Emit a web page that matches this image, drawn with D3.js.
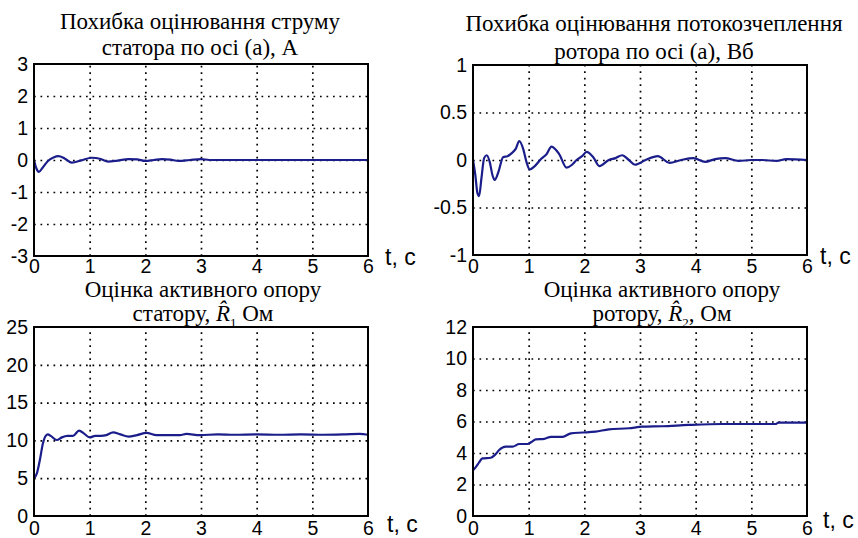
<!DOCTYPE html>
<html>
<head>
<meta charset="utf-8">
<script src="https://cdn.jsdelivr.net/npm/d3@7"></script>
<style>
  body { margin: 0; background: #fff; }
  svg { display: block; }
</style>
</head>
<body>
<div id="viz"></div>
<script>
// time ticks shared by all four panels
const xTicks = [0, 1, 2, 3, 4, 5, 6]

// stator current error, A
const t1 = [0, 0.04, 0.09, 0.15, 0.25, 0.35, 0.44, 0.55, 0.68, 0.85, 1.04, 1.2, 1.33, 1.5, 1.7, 1.85, 2.0, 2.15, 2.3, 2.45, 2.6, 2.8, 3.0, 3.15, 3.5, 4, 5, 6]
const y1 = [0, -0.25, -0.37, -0.25, -0.03, 0.08, 0.12, 0.05, -0.08, -0.01, 0.07, 0.03, -0.05, -0.02, 0.03, 0.02, -0.03, 0.0, 0.03, 0.01, -0.03, 0.0, 0.03, 0.0, 0, 0, 0, 0]
const yTicks1 = [-3, -2, -1, 0, 1, 2, 3]

// rotor flux error, Wb
const t2 = [0, 0.04, 0.08, 0.11, 0.15, 0.2, 0.245, 0.3, 0.35, 0.39, 0.46, 0.54, 0.62, 0.69, 0.77, 0.83, 0.9, 0.96, 1.02, 1.1, 1.23, 1.32, 1.41, 1.55, 1.68, 1.78, 1.86, 1.96, 2.04, 2.16, 2.27, 2.44, 2.56, 2.68, 2.8, 2.91, 3.1, 3.32, 3.53, 3.74, 3.96, 4.17, 4.35, 4.53, 4.77, 5.0, 5.2, 5.45, 5.63, 6]
const y2 = [0, -0.15, -0.35, -0.38, -0.2, 0.02, 0.05, -0.02, -0.16, -0.21, -0.12, 0.03, 0.04, 0.07, 0.12, 0.2, 0.12, -0.02, -0.1, -0.07, 0.015, 0.06, 0.14, 0.06, -0.08, -0.05, 0.0, 0.04, 0.085, 0.03, -0.064, 0.0, 0.02, 0.05, 0.0, -0.05, 0.0, 0.04, -0.03, 0.0, 0.02, -0.02, 0.01, 0.02, -0.01, 0.0, 0.0, -0.01, 0.01, 0.0]
const yTicks2 = [-1, -0.5, 0, 0.5, 1]

// stator resistance estimate, Ohm
const t3 = [0, 0.05, 0.1, 0.16, 0.21, 0.25, 0.3, 0.41, 0.5, 0.6, 0.7, 0.81, 0.9, 1.0, 1.1, 1.2, 1.3, 1.42, 1.55, 1.7, 1.85, 2.02, 2.2, 2.4, 2.62, 2.74, 2.98, 3.3, 3.6, 4.0, 4.4, 4.8, 5.2, 5.6, 5.85, 6]
const y3 = [5, 5.6, 7.2, 9.6, 10.6, 10.8, 10.6, 10.05, 10.4, 10.6, 10.6, 11.3, 10.9, 10.4, 10.6, 10.6, 10.7, 11.07, 10.8, 10.5, 10.7, 11.0, 10.7, 10.7, 10.7, 10.85, 10.7, 10.8, 10.75, 10.8, 10.75, 10.8, 10.75, 10.8, 10.85, 10.75]
const yTicks3 = [0, 5, 10, 15, 20, 25]

// rotor resistance estimate, Ohm
const t4 = [0, 0.05, 0.11, 0.17, 0.32, 0.4, 0.47, 0.59, 0.71, 0.83, 0.98, 1.05, 1.13, 1.28, 1.4, 1.61, 1.76, 1.97, 2.2, 2.44, 2.8, 3.04, 3.4, 3.87, 4.47, 5.43, 5.49, 6]
const y4 = [2.9, 3.1, 3.4, 3.66, 3.7, 3.9, 4.19, 4.4, 4.4, 4.57, 4.57, 4.7, 4.87, 4.9, 5.03, 5.03, 5.25, 5.3, 5.36, 5.5, 5.57, 5.67, 5.7, 5.78, 5.84, 5.84, 5.93, 5.93]
const yTicks4 = [0, 2, 4, 6, 8, 10, 12]

const width = 858
const height = 538
const lineColor = "#1a1d8a"

const svg = d3.select("#viz").append("svg")
    .attr("width", width)
    .attr("height", height)

// box of each plot, title placement and "t, c" label placement
const panels = [
    { t: t1, y: y1, ticks: yTicks1, box: [34, 64, 368, 256], tx: 200, tb: [29, 55], lx: 385, ly: 265, pad: 3,
      title: ["Похибка оцінювання струму", "статора по осі (а), А"] },
    { t: t2, y: y2, ticks: yTicks2, box: [473, 65, 807, 255], tx: 654, tb: [31, 59], lx: 820, ly: 264, pad: 4,
      title: ["Похибка оцінювання потокозчеплення", "ротора по осі (а), Вб"] },
    { t: t3, y: y3, ticks: yTicks3, box: [34, 327, 368, 516], tx: 203, tb: [297, 321], lx: 387, ly: 532, pad: 5,
      title: ["Оцінка активного опору", null], sub: ["статору, ", "1", "  Ом"] },
    { t: t4, y: y4, ticks: yTicks4, box: [473, 327, 807, 516], tx: 662, tb: [297, 321], lx: 823, ly: 528, pad: 5,
      title: ["Оцінка активного опору", null], sub: ["ротору, ", "2", ", Ом"] }
]

const sans = "'Liberation Sans', Arial, sans-serif"
const serif = "'Liberation Serif', 'Times New Roman', serif"

panels.forEach(p => {
    const [x0, y0, x1, y1b] = p.box
    const x = d3.scaleLinear().domain([0, 6]).range([x0, x1])
    const y = d3.scaleLinear().domain(d3.extent(p.ticks)).range([y1b, y0])
    const g = svg.append("g")

    // dotted grid
    g.append("g")
        .attr("transform", `translate(0,${y1b})`)
        .call(d3.axisBottom(x).tickValues(xTicks.slice(1, -1)).tickSize(-(y1b - y0)).tickFormat(""))
        .call(a => a.select(".domain").remove())
        .selectAll("line")
        .attr("stroke", "#000").attr("stroke-width", 1.7).attr("stroke-dasharray", "1.7,4.8")
    g.append("g")
        .attr("transform", `translate(${x0},0)`)
        .call(d3.axisLeft(y).tickValues(p.ticks.slice(1, -1)).tickSize(-(x1 - x0)).tickFormat(""))
        .call(a => a.select(".domain").remove())
        .selectAll("line")
        .attr("stroke", "#000").attr("stroke-width", 1.7).attr("stroke-dasharray", "1.7,4.8")

    // tick labels
    g.append("g")
        .attr("transform", `translate(0,${y1b})`)
        .call(d3.axisBottom(x).tickValues(xTicks).tickSize(0).tickPadding(p.pad).tickFormat(d3.format("d")))
        .call(a => a.select(".domain").remove())
        .selectAll("text")
        .attr("fill", "#000").style("font-family", sans).style("font-size", "19.5px")
    g.append("g")
        .attr("transform", `translate(${x0},0)`)
        .call(d3.axisLeft(y).tickValues(p.ticks).tickSize(0).tickPadding(6).tickFormat(d => String(d)))
        .call(a => a.select(".domain").remove())
        .selectAll("text")
        .attr("fill", "#000").style("font-family", sans).style("font-size", "19.5px")

    // the curve
    const pts = p.t.map((t, i) => [t, p.y[i]])
    g.append("path")
        .datum(pts)
        .attr("fill", "none")
        .attr("stroke", lineColor)
        .attr("stroke-width", 2.2)
        .attr("d", d3.line().x(d => x(d[0])).y(d => y(d[1])).curve(d3.curveMonotoneX))

    // frame
    g.append("rect")
        .attr("x", x0).attr("y", y0)
        .attr("width", x1 - x0).attr("height", y1b - y0)
        .attr("fill", "none").attr("stroke", "#000").attr("stroke-width", 2)

    // titles
    g.append("text")
        .attr("x", p.tx).attr("y", p.tb[0])
        .attr("text-anchor", "middle")
        .style("font-family", serif).style("font-size", "23px")
        .text(p.title[0])
    const t2nd = g.append("text")
        .attr("x", p.tx).attr("y", p.tb[1])
        .attr("text-anchor", "middle")
        .style("font-family", serif).style("font-size", "23px")
    if (p.title[1]) {
        t2nd.text(p.title[1])
    } else {
        t2nd.append("tspan").text(p.sub[0])
        t2nd.append("tspan").style("font-style", "italic").text("R\u0302")
        t2nd.append("tspan").attr("dy", 6).style("font-size", "13px").text(p.sub[1])
        t2nd.append("tspan").attr("dy", -6).text(p.sub[2])
    }

    // axis name
    g.append("text")
        .attr("x", p.lx).attr("y", p.ly)
        .style("font-family", sans).style("font-size", "23px")
        .text("t, c")
})
</script>
</body>
</html>
